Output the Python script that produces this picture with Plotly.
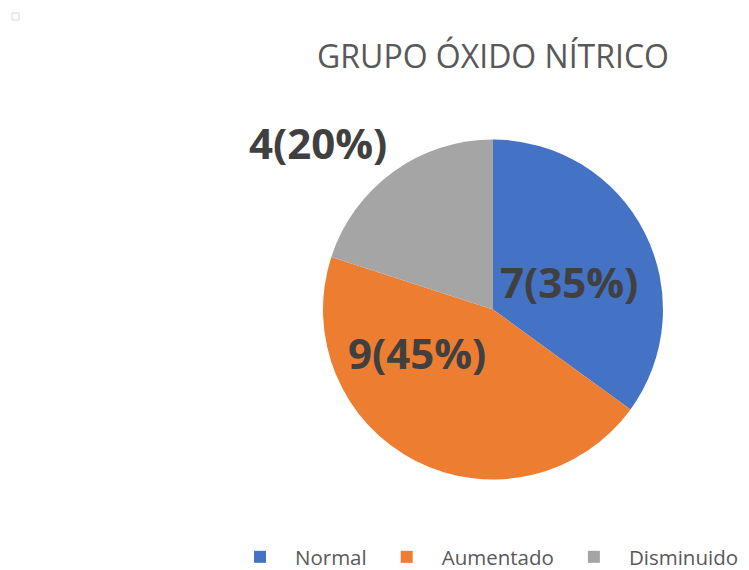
import plotly.graph_objects as go

categories = ["Normal", "Aumentado", "Disminuido"]
counts = [7, 9, 4]
percents = [35, 45, 20]
colors = ["#4472C4", "#ED7D31", "#A5A5A5"]

labels_text = [f"{c}({p}%)" for c, p in zip(counts, percents)]
# label anchor positions (pixels from top-left), as placed in the original
label_px = [569, 417, 318]
label_py = [281, 352, 142]

W, H = 749, 570
fig = go.Figure(go.Pie(
    labels=categories,
    values=counts,
    textinfo="none",
    marker=dict(colors=colors, line=dict(width=0)),
    sort=False,
    direction="clockwise",
    rotation=0,
    domain=dict(x=[323 / W, 663 / W], y=[1 - 479.5 / H, 1 - 139.5 / H]),
    hoverinfo="label+value+percent",
    showlegend=True,
))

for t, px, py in zip(labels_text, label_px, label_py):
    fig.add_annotation(text=t, x=px / W, y=1 - py / H, xref="paper", yref="paper",
                       xanchor="center", yanchor="middle", showarrow=False,
                       font=dict(family="Open Sans", size=42, color="#404040", weight="bold"))

fig.update_layout(
    width=W, height=H,
    margin=dict(l=0, r=0, t=0, b=0, autoexpand=False),
    paper_bgcolor="white",
    plot_bgcolor="white",
    title=dict(text="GRUPO ÓXIDO NÍTRICO", x=493 / W, xanchor="center",
               y=1 - 57 / H, yanchor="middle",
               font=dict(family="Open Sans", size=32, color="#595959")),
    legend=dict(orientation="h", x=225 / W, xanchor="left",
                y=1 - 557 / H, yanchor="middle", itemwidth=60,
                font=dict(family="Open Sans", size=20.5, color="#595959")),
)

fig.add_shape(type="rect", xref="paper", yref="paper",
              x0=12 / W, x1=19 / W, y0=1 - 20 / H, y1=1 - 13 / H,
              line=dict(color="#D9D9D9", width=1), fillcolor="white")

fig.write_html("out.html", config={"displayModeBar": False},
               post_script="document.body.style.margin='0';")
